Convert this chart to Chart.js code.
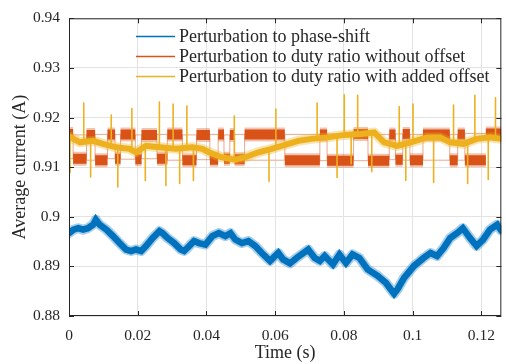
<!doctype html>
<html>
<head>
<meta charset="utf-8">
<title>Average current</title>
<script src="https://cdn.jsdelivr.net/npm/chart.js@4.4.1/dist/chart.umd.min.js"></script>
<style>
  html, body { margin: 0; padding: 0; background: #fff; }
  #chart-area { display: block; }
</style>
</head>
<body>
<canvas id="chart-area" width="506" height="364"></canvas>
<script>
// --- data (time in s, current in A) ---
const xTicks = [0, 0.02, 0.04, 0.06, 0.08, 0.1, 0.12];
const yTicks = [0.88, 0.89, 0.9, 0.91, 0.92, 0.93, 0.94];
const seriesNames = [
  'Perturbation to phase-shift',
  'Perturbation to duty ratio without offset',
  'Perturbation to duty ratio with added offset'
];

// blue: phase-shift perturbation
const phaseT = [0, 0.0013, 0.0027, 0.0041, 0.0055, 0.007, 0.0078, 0.0089, 0.0109, 0.0128,
  0.0147, 0.0166, 0.0181, 0.0195, 0.021, 0.0224, 0.0243, 0.0263, 0.0272, 0.0287,
  0.0306, 0.0325, 0.0335, 0.035, 0.0364, 0.0378, 0.0397, 0.0417, 0.0436, 0.0455,
  0.047, 0.0484, 0.0503, 0.0522, 0.0542, 0.0561, 0.0585, 0.0609, 0.0623, 0.0643,
  0.0662, 0.0696, 0.0715, 0.073, 0.0744, 0.0768, 0.0787, 0.0806, 0.0825, 0.0845,
  0.0869, 0.0898, 0.0922, 0.0936, 0.0946, 0.0956, 0.0975, 0.1004, 0.1032, 0.1052,
  0.1071, 0.109, 0.1109, 0.1129, 0.1146, 0.1167, 0.1186, 0.1205, 0.1225, 0.1246, 0.1258];
const phaseI = [0.8967, 0.8974, 0.8977, 0.8974, 0.8977, 0.8984, 0.8994, 0.8984, 0.8974, 0.8961,
  0.8947, 0.8934, 0.8931, 0.8934, 0.8931, 0.8941, 0.8957, 0.8971, 0.8967, 0.8957,
  0.8947, 0.8934, 0.8931, 0.8941, 0.8951, 0.8947, 0.8944, 0.8961, 0.8967, 0.8961,
  0.8967, 0.8954, 0.8947, 0.8951, 0.8941, 0.8927, 0.8911, 0.8927, 0.8914, 0.8906,
  0.8917, 0.8934, 0.8917, 0.8911, 0.8921, 0.8904, 0.8924, 0.8907, 0.8924, 0.8917,
  0.8894, 0.8881, 0.8867, 0.8854, 0.8845, 0.8854, 0.8877, 0.8901, 0.8917, 0.8927,
  0.8921, 0.8937, 0.8957, 0.8967, 0.8977, 0.8957, 0.8941, 0.8954, 0.8974, 0.8984, 0.8972];

// orange: duty ratio without offset (level held from each switch time to the next)
const dutyT = [0, 0.0012, 0.0051, 0.0076, 0.0112, 0.0134, 0.015, 0.0193, 0.0211, 0.0256,
  0.0286, 0.033, 0.0371, 0.041, 0.0434, 0.0451, 0.0468, 0.0482, 0.0511, 0.0628,
  0.073, 0.0751, 0.0828, 0.087, 0.0932, 0.095, 0.0971, 0.0992, 0.103, 0.1108,
  0.1131, 0.1152, 0.1213, 0.1258];
const dutyI = [0.9167, 0.9117, 0.9165, 0.9114, 0.9166, 0.9117, 0.9166, 0.9116, 0.9165, 0.9117,
  0.9166, 0.9114, 0.9165, 0.9115, 0.9166, 0.9117, 0.9165, 0.9116, 0.9166, 0.9114,
  0.9166, 0.9113, 0.9167, 0.9113, 0.9166, 0.9115, 0.9167, 0.9114, 0.9166, 0.9114,
  0.9166, 0.9114, 0.9168, 0.9168];

// yellow: duty ratio with added offset
const offsetT = [0, 0.0032, 0.007, 0.0099, 0.0138, 0.0176, 0.0195, 0.0224, 0.0263, 0.0311,
  0.0359, 0.0388, 0.0407, 0.0445, 0.0484, 0.0513, 0.0551, 0.059, 0.0638, 0.0667,
  0.0705, 0.0753, 0.0801, 0.0849, 0.0888, 0.0917, 0.0955, 0.0994, 0.1042, 0.108,
  0.1109, 0.1148, 0.1186, 0.1225, 0.1258];
const offsetI = [0.9162, 0.915, 0.9153, 0.9147, 0.914, 0.9137, 0.913, 0.9143, 0.914, 0.9137,
  0.914, 0.9137, 0.913, 0.912, 0.9115, 0.912, 0.913, 0.9137, 0.9147, 0.9153,
  0.9157, 0.916, 0.9165, 0.9167, 0.917, 0.915, 0.9143, 0.915, 0.916, 0.916,
  0.915, 0.9147, 0.9157, 0.916, 0.9157];
// spikes on the yellow trace
const spikeT = [0.0003, 0.0043, 0.0063, 0.0123, 0.0142, 0.0183, 0.0222, 0.0263, 0.0282, 0.0303,
  0.0322, 0.0343, 0.0362, 0.0481, 0.0582, 0.0602, 0.0722, 0.078, 0.0801, 0.0821,
  0.084, 0.0881, 0.0961, 0.098, 0.1001, 0.1061, 0.1119, 0.116, 0.1181, 0.122, 0.1241];
const spikeBase = [0.9162, 0.915, 0.9152, 0.9143, 0.914, 0.9135, 0.9142, 0.914, 0.9139, 0.9138,
  0.9138, 0.9139, 0.914, 0.9116, 0.9135, 0.914, 0.9158, 0.9163, 0.9165, 0.9166,
  0.9167, 0.9169, 0.9144, 0.9147, 0.9152, 0.916, 0.915, 0.915, 0.9155, 0.916, 0.9158];
const spikeTip = [0.9089, 0.9229, 0.908, 0.9205, 0.906, 0.9218, 0.9073, 0.9231, 0.9063, 0.9227,
  0.9067, 0.9223, 0.9073, 0.9203, 0.9071, 0.9217, 0.9229, 0.9079, 0.9246, 0.9107,
  0.9245, 0.9091, 0.9222, 0.9073, 0.9227, 0.9069, 0.9225, 0.9067, 0.9245, 0.9075, 0.924];

const colors = ['#0072BD', '#D95319', '#EDB120'];
const FONT = "'Liberation Serif', 'Times New Roman', serif";
const TEXT = '#262626';

const pts = (xs, ys) => xs.map((x, i) => ({x: x, y: ys[i]}));

// flat pieces of the step trace, without the vertical jumps
const dutyPieces = [];
for (let i = 0; i < dutyT.length - 1; i++) {
  dutyPieces.push({x: dutyT[i], y: dutyI[i]}, {x: dutyT[i + 1], y: dutyI[i]}, {x: dutyT[i + 1], y: null});
}
const spikePts = [];
spikeT.forEach((t, i) => {
  spikePts.push({x: t, y: spikeBase[i]}, {x: t, y: spikeTip[i]}, {x: t, y: null});
});

// matlab-ish box, inward ticks and legend
const matlabBox = {
  id: 'matlabBox',
  afterDatasetsDraw(chart) {
    const {ctx, chartArea: a, scales} = chart;
    ctx.save();
    ctx.strokeStyle = TEXT;
    ctx.lineWidth = 1;
    ctx.beginPath();
    xTicks.forEach(v => {
      const px = Math.round(scales.x.getPixelForValue(v)) + 0.5;
      ctx.moveTo(px, a.bottom); ctx.lineTo(px, a.bottom - 5);
      ctx.moveTo(px, a.top); ctx.lineTo(px, a.top + 5);
    });
    yTicks.forEach(v => {
      const py = Math.round(scales.y.getPixelForValue(v)) + 0.5;
      ctx.moveTo(a.left, py); ctx.lineTo(a.left + 5, py);
      ctx.moveTo(a.right, py); ctx.lineTo(a.right - 5, py);
    });
    ctx.stroke();
    ctx.strokeRect(a.left + 0.5, a.top + 0.5, a.right - a.left - 1, a.bottom - a.top - 1);

    // legend
    ctx.font = '18px ' + FONT;
    ctx.textBaseline = 'middle';
    ctx.fillStyle = TEXT;
    seriesNames.forEach((name, i) => {
      const y = 36.5 + i * 20;
      ctx.strokeStyle = colors[i];
      ctx.lineWidth = 1.5;
      ctx.beginPath();
      ctx.moveTo(136, y); ctx.lineTo(175, y);
      ctx.stroke();
      ctx.fillText(name, 179, y + 0.5);
    });
    ctx.restore();
  }
};

new Chart(document.getElementById('chart-area').getContext('2d'), {
  type: 'line',
  data: {
    datasets: [
      {label: 'spikes', data: spikePts, borderColor: colors[2], borderWidth: 1.6, spanGaps: false, order: 1},
      {label: seriesNames[2], data: pts(offsetT, offsetI), borderColor: colors[2], borderWidth: 6, borderJoinStyle: 'miter', order: 2},
      {label: 'offset halo', data: pts(offsetT, offsetI), borderColor: 'rgba(237,177,32,0.35)', borderWidth: 10, order: 3},
      {label: seriesNames[1], data: dutyPieces, borderColor: colors[1], borderWidth: 10, borderCapStyle: 'butt', spanGaps: false, order: 4},
      {label: 'duty halo', data: dutyPieces, borderColor: 'rgba(217,83,25,0.35)', borderWidth: 14, borderCapStyle: 'butt', spanGaps: false, order: 5},
      {label: 'duty steps', data: pts(dutyT, dutyI), stepped: 'after', borderColor: 'rgba(217,83,25,0.5)', borderWidth: 1, order: 6},
      {label: seriesNames[0], data: pts(phaseT, phaseI), borderColor: colors[0], borderWidth: 6.5, borderJoinStyle: 'miter', order: 7},
      {label: 'phase halo', data: pts(phaseT, phaseI), borderColor: 'rgba(0,114,189,0.35)', borderWidth: 10, order: 8}
    ]
  },
  options: {
    responsive: false,
    animation: false,
    events: [],
    elements: {
      point: {radius: 0},
      line: {tension: 0, borderJoinStyle: 'round', borderCapStyle: 'round'}
    },
    layout: {padding: {left: 0, right: 1, top: 15, bottom: 0}},
    plugins: {legend: {display: false}, tooltip: {enabled: false}},
    scales: {
      x: {
        type: 'linear',
        min: 0,
        max: 0.1258,
        afterBuildTicks: s => { s.ticks = xTicks.map(v => ({value: v})); },
        afterFit: s => { s.height = 48; },
        grid: {color: '#e3e3e3', drawTicks: false},
        border: {display: false},
        ticks: {
          padding: 11,
          color: TEXT,
          font: {family: FONT, size: 15.5},
          maxRotation: 0,
          callback: v => String(+v.toFixed(4))
        },
        title: {display: true, text: 'Time (s)', color: TEXT, font: {family: FONT, size: 18}, padding: {top: 1, bottom: 0}}
      },
      y: {
        min: 0.88,
        max: 0.94,
        afterBuildTicks: s => { s.ticks = yTicks.map(v => ({value: v})); },
        afterFit: s => { s.width = 69; },
        grid: {color: '#e3e3e3', drawTicks: false},
        border: {display: false},
        ticks: {
          padding: 9,
          color: TEXT,
          font: {family: FONT, size: 15.5},
          callback: v => String(+v.toFixed(4))
        },
        title: {display: true, text: 'Average current (A)', color: TEXT, font: {family: FONT, size: 18}, padding: {top: 9, bottom: 0}}
      }
    }
  },
  plugins: [matlabBox]
});
</script>
</body>
</html>
